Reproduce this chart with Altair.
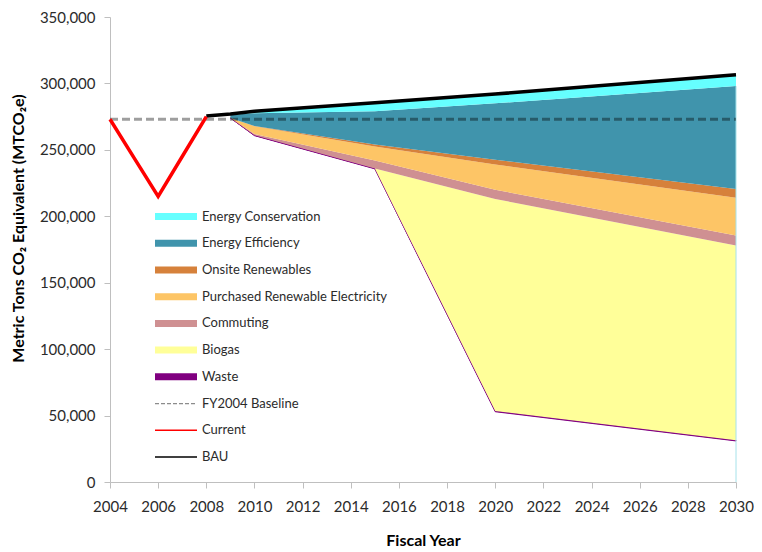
import altair as alt
import pandas as pd

# ---------------- data ----------------
current_years = [2004, 2005, 2006, 2007, 2008]
current_values = [273000, 244000, 215000, 245000, 275000]

bau_years = [2008, 2009, 2010, 2015, 2020, 2030]
bau_values = [275500, 277000, 279000, 285500, 292000, 306500]

baseline_years = [2004, 2030]
baseline_value = 273000

wedge_years = [2009, 2010, 2015, 2020, 2030]
conservation = [500, 1500, 6500, 7000, 8500]
efficiency = [2500, 9500, 25000, 42500, 77500]
onsite = [0, 300, 1500, 3500, 6500]
purchased = [0, 5700, 10500, 19000, 28500]
commuting = [0, 1000, 6000, 7000, 7500]
biogas = [0, 0, 0, 159500, 146500]
waste = [0, 300, 300, 600, 600]

wedge_names = ["Energy Conservation", "Energy Efficiency", "Onsite Renewables",
               "Purchased Renewable Electricity", "Commuting", "Biogas", "Waste"]
wedge_colors = ["#66FFFF", "#4094AC", "#D6813B", "#FDC566", "#CF9092", "#FFFF99", "#800080"]
wedge_values = [conservation, efficiency, onsite, purchased, commuting, biogas, waste]

x_ticks = list(range(2004, 2031, 2))
y_ticks = list(range(0, 350001, 50000))

legend_labels = wedge_names + ["FY2004 Baseline", "Current", "BAU"]
legend_kinds = ["band"] * 7 + ["dash", "line", "line"]
legend_colors = wedge_colors + ["#8C8C8C", "#FF0000", "#000000"]

# ---------------- tables ----------------
bau_for_wedges = dict(zip(bau_years, bau_values))
rows = []
for i, yr in enumerate(wedge_years):
    total = sum(v[i] for v in wedge_values)
    rows.append({"year": yr, "series": "Remaining", "value": bau_for_wedges[yr] - total, "rank": 0})
    # bottom to top: Waste, Biogas, Commuting, Purchased, Onsite, Efficiency, Conservation
    for r, (name, vals) in enumerate(zip(reversed(wedge_names), reversed(wedge_values)), start=1):
        rows.append({"year": yr, "series": name, "value": vals[i], "rank": r})
wedges_df = pd.DataFrame(rows)

current_df = pd.DataFrame({"year": current_years, "value": current_values})
bau_df = pd.DataFrame({"year": bau_years, "value": bau_values})
base_df = pd.DataFrame({"year": baseline_years, "value": [baseline_value] * len(baseline_years)})
edge_df = pd.DataFrame({"year": [wedge_years[-1]], "value": [0],
                        "hi": [bau_values[-1] - conservation[-1]]})
legend_df = pd.DataFrame({"label": legend_labels, "kind": legend_kinds,
                          "idx": list(range(len(legend_labels)))})

FONT = "Lato"
TXT = "#2b2b2b"

x_scale = alt.Scale(domain=[2004, 2030], nice=False, zero=False)
x_axis = alt.Axis(values=x_ticks, format="d", title="Fiscal Year", grid=False,
                  tickSize=6, labelPadding=11, titlePadding=18, labelOverlap=False,
                  labelFlush=False, labelFontSize=15, titleFontSize=16, titleFontWeight="bold")
y_scale = alt.Scale(domain=[0, 350000], nice=False)
y_axis = alt.Axis(values=y_ticks, format=",.0f", title="Metric Tons CO₂ Equivalent (MTCO₂e)",
                  grid=False, tickSize=6, labelPadding=9, labelFontSize=15, labelOverlap=False,
                  labelFlush=False,
                  titleFontSize=16, titleFontWeight="bold", titleX=-92, titleY=211,
                  titleAngle=270, titleBaseline="middle", titleAlign="center")

X = alt.X("year:Q", scale=x_scale, axis=x_axis)
Y = alt.Y("value:Q", scale=y_scale, axis=y_axis)

all_series = ["Remaining"] + wedge_names
all_colors = ["#FFFFFF"] + wedge_colors

areas = alt.Chart(wedges_df).mark_area(interpolate="linear", strokeWidth=1).encode(
    x=X,
    y=alt.Y("value:Q", stack="zero", scale=y_scale, axis=y_axis),
    color=alt.Color("series:N", scale=alt.Scale(domain=all_series, range=all_colors), legend=None),
    order=alt.Order("rank:Q", sort="ascending"),
    fillOpacity=alt.condition(alt.datum.series == "Remaining", alt.value(0), alt.value(1)),
    stroke=alt.condition(alt.datum.series == "Waste", alt.value("#800080"), alt.value("transparent")),
)

edge = alt.Chart(edge_df).mark_rule(color="#A6E2EA", strokeWidth=1).encode(
    x=X, y=Y, y2="hi:Q")

baseline = alt.Chart(base_df).mark_line(color="#000000", opacity=0.38, strokeWidth=3,
                                        strokeDash=[8, 4]).encode(x=X, y=Y)

bau = alt.Chart(bau_df).mark_line(color="#000000", strokeWidth=3.5).encode(x=X, y=Y)
current = alt.Chart(current_df).mark_line(color="#FF0000", strokeWidth=3.5).encode(x=X, y=Y)

main = alt.layer(areas, edge, baseline, bau, current)

leg_y = alt.Y("idx:Q", scale=alt.Scale(domain=[0, len(legend_labels) - 1], range=[199.5, 440]), axis=None)
leg_color = alt.Color("label:N", scale=alt.Scale(domain=legend_labels, range=legend_colors), legend=None)
leg_base = alt.Chart(legend_df)
leg_band = leg_base.transform_filter(alt.datum.kind == "band").mark_rule(strokeWidth=7).encode(
    x=alt.value(45), x2=alt.value(87), y=leg_y, color=leg_color)
leg_dash = leg_base.transform_filter(alt.datum.kind == "dash").mark_rule(strokeWidth=1.3, strokeDash=[4, 2]).encode(
    x=alt.value(45), x2=alt.value(87), y=leg_y, color=leg_color)
leg_line = leg_base.transform_filter(alt.datum.kind == "line").mark_rule(strokeWidth=1.6).encode(
    x=alt.value(45), x2=alt.value(87), y=leg_y, color=leg_color)
leg_text = leg_base.mark_text(align="left", baseline="middle", font=FONT, fontSize=13, color=TXT).encode(
    x=alt.value(92), y=leg_y, text="label:N")
legend = alt.layer(leg_band, leg_dash, leg_line, leg_text)

chart = alt.layer(main, legend).resolve_scale(
    x="independent", y="independent", color="independent"
).properties(
    width=626, height=465,
    padding={"left": 102, "top": 9, "right": 18, "bottom": 70},
    autosize=alt.AutoSizeParams(type="none"),
).configure_view(strokeWidth=0).configure_axis(
    labelFont=FONT, titleFont=FONT, labelColor=TXT, titleColor="#000000",
    domainColor="#BFBFBF", tickColor="#BFBFBF", domainWidth=1, tickWidth=1,
)

chart.save("out.html", embed_options={"renderer": "svg", "actions": False})
